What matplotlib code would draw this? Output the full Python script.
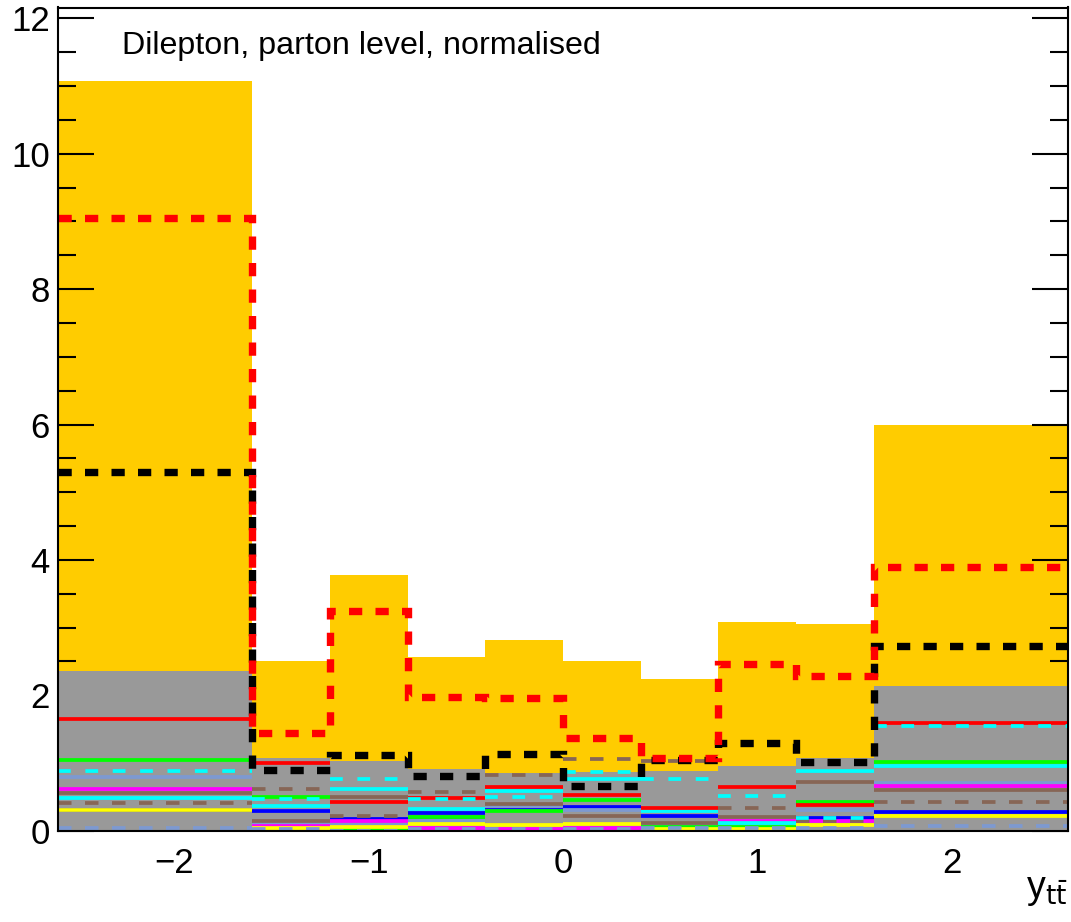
import numpy as np
import matplotlib
matplotlib.use('Agg')
import matplotlib.pyplot as plt
from matplotlib.ticker import MultipleLocator

# bin edges of y_tt (first/last bin clipped by the axis range)
edges = [-2.6, -1.6, -1.2, -0.8, -0.4, 0.0, 0.4, 0.8, 1.2, 1.6, 2.6]

# filled bands
yellow_band = [11.07, 2.51, 3.78, 2.57, 2.82, 2.51, 2.24, 3.09, 3.06, 6.0]
gray_band = [2.36, 1.08, 1.03, 0.91, 0.85, 0.87, 0.88, 0.956, 1.08, 2.14]

# thick dashed histograms
red_dashed = [9.05, 1.44, 3.25, 1.98, 1.96, 1.37, 1.07, 2.46, 2.29, 3.89]
black_dashed = [5.30, 0.89, 1.12, 0.81, 1.14, 0.656, 1.04, 1.29, 1.02, 2.73]

# thin lines
blue_solid = [0.31, 0.29, 0.18, 0.26, 0.30, 0.355, 0.22, 0.10, 0.19, 0.27]
lightblue_solid = [0.79, 0.118, 0.10, 0.14, 0.36, 0.30, 0.07, 0.08, 0.30, 0.71]
brown_solid = [0.56, 0.15, 0.50, 0.20, 0.395, 0.21, 0.11, 0.20, 0.72, 0.60]
magenta_solid = [0.62, 0.07, 0.143, 0.04, 0.03, 0.04, 0.04, 0.14, 0.14, 0.655]
green_solid = [1.045, 0.50, 0.02, 0.20, 0.29, 0.45, 0.05, 0.05, 0.43, 1.01]
cyan_solid = [0.48, 0.365, 0.62, 0.32, 0.59, 0.76, 0.285, 0.12, 0.88, 0.95]
red_solid = [1.65, 1.005, 0.43, 0.49, 0.646, 0.52, 0.33, 0.65, 0.38, 1.59]
yellow_solid = [0.31, 0.04, 0.05, 0.10, 0.08, 0.10, 0.02, 0.02, 0.08, 0.21]
brown_dashed = [0.41, 0.61, 0.21, 0.57, 0.82, 1.06, 1.03, 0.34, 0.14, 0.43]
cyan_dashed = [0.88, 0.47, 0.76, 0.47, 0.50, 0.86, 0.77, 0.51, 0.19, 1.54]
lightblue_dashed = [0.045, 0.03, 0.0, 0.03, 0.02, 0.02, 0.04, 0.04, 0.04, 0.075]

plt.rcParams['font.family'] = ['Liberation Sans', 'DejaVu Sans']

W, H = 1071, 922
fig = plt.figure(figsize=(W / 100, H / 100), dpi=100)
ax = fig.add_axes([58 / W, (H - 830.7) / H, (1068 - 58) / W, (830.7 - 7.5) / H])

ax.stairs(yellow_band, edges, fill=True, color='#ffcc00', lw=0, zorder=1)
ax.stairs(gray_band, edges, fill=True, color='#999999', lw=0, zorder=2)

lo = np.array(edges[:-1])
hi = np.array(edges[1:])
thin = [
    (blue_solid, '#0000ff', '-'),
    (lightblue_solid, '#7d99d1', '-'),
    (brown_solid, '#876656', '-'),
    (magenta_solid, '#ff00ff', '-'),
    (green_solid, '#00ff00', '-'),
    (cyan_solid, '#00ffff', '-'),
    (red_solid, '#ff0000', '-'),
    (yellow_solid, '#ffff00', '-'),
    (brown_dashed, '#876656', (0, (3.6, 3.6))),
    (cyan_dashed, '#00ffff', (0, (3.4, 3.9))),
    (lightblue_dashed, '#7d99d1', (0, (3.6, 3.6))),
]
for i, (vals, col, ls) in enumerate(thin):
    ax.hlines(vals, lo, hi, colors=col, linestyles=ls, lw=2.7,
              zorder=3 + i * 0.01)

ax.stairs(black_dashed, edges, baseline=None, color='black', lw=5.3,
          ls=(0, (1.8, 1.8)), zorder=5)
ax.stairs(red_dashed, edges, baseline=None, color='#ff0000', lw=5.3,
          ls=(0, (1.8, 1.8)), zorder=5.1)

ax.set_xlim(-2.6, 2.6)
ax.set_ylim(0, 12.16)

ax.xaxis.set_major_locator(MultipleLocator(1))
ax.yaxis.set_major_locator(MultipleLocator(2))
ax.yaxis.set_minor_locator(MultipleLocator(0.5))
ax.tick_params(axis='y', which='both', direction='in', left=True, right=True,
               labelsize=25, width=1.5, pad=6)
ax.tick_params(axis='y', which='major', length=26)
ax.tick_params(axis='y', which='minor', length=13)
ax.tick_params(axis='x', which='major', direction='in', length=14, width=1.5,
               labelsize=25, pad=12, top=False)
ax.xaxis.set_major_formatter(plt.FuncFormatter(
    lambda v, p: f'{int(round(v))}'.replace('-', '\u2212')))
for s in ax.spines.values():
    s.set_linewidth(1.5)
    s.set_zorder(10)

fig.text(122 / W, 1 - 46 / H, 'Dilepton, parton level, normalised',
         fontsize=23.2, va='center', ha='left')
fig.text(1068 / W, 1 - 898 / H, r'y$_{\mathrm{t\bar{t}}}$', fontsize=27,
         ha='right', va='baseline')

fig.savefig('out.png', dpi=100)
